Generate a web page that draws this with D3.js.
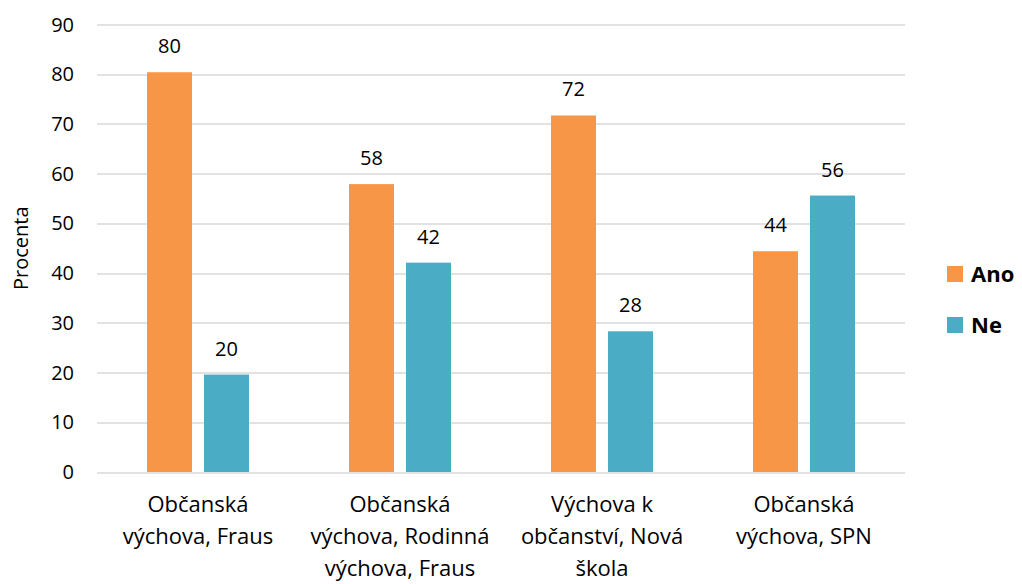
<!DOCTYPE html>
<html>
<head>
<meta charset="utf-8">
<script src="https://cdn.jsdelivr.net/npm/d3@7"></script>
<style>
  body { margin: 0; background: #fff; }
  text { font-family: "Open Sans", sans-serif; fill: #000; }
</style>
</head>
<body>
<div id="chart"></div>
<script>
var categories = [
    ["Občanská", "výchova, Fraus"],
    ["Občanská", "výchova, Rodinná", "výchova, Fraus"],
    ["Výchova k", "občanství, Nová", "škola"],
    ["Občanská", "výchova, SPN"]
]
var seriesNames = ["Ano", "Ne"]
var anoValues = [80.4, 57.9, 71.7, 44.4]
var neValues = [19.6, 42.1, 28.3, 55.6]
var yTicks = [0, 10, 20, 30, 40, 50, 60, 70, 80, 90]
var colors = ["#F79646", "#4BACC6"]

var W = 1022, H = 584
var margin = { top: 24.5, right: 117, bottom: 112, left: 97 },
    width = W - margin.left - margin.right,
    height = H - margin.top - margin.bottom

var svg = d3.select("#chart")
    .append("svg")
    .attr("width", W)
    .attr("height", H)

var g = svg.append("g")
    .attr("transform", "translate(" + margin.left + "," + margin.top + ")")

var y = d3.scaleLinear().domain([0, 90]).range([height, 0])
var x0 = d3.scaleBand()
    .domain(d3.range(categories.length))
    .range([0, width])
var x1 = d3.scaleBand()
    .domain([0, 1])
    .range([x0.bandwidth() / 2 - 51, x0.bandwidth() / 2 + 51])
    .paddingInner(12 / 57)

// gridlines
g.append("g")
    .selectAll("line")
    .data(yTicks)
    .enter()
    .append("line")
    .attr("x1", 0)
    .attr("x2", width)
    .attr("y1", d => Math.round(y(d)) + 0.5)
    .attr("y2", d => Math.round(y(d)) + 0.5)
    .attr("stroke", "#D9D9D9")
    .attr("stroke-width", 1.5)

// y tick labels
g.append("g")
    .selectAll("text")
    .data(yTicks)
    .enter()
    .append("text")
    .attr("x", -23)
    .attr("y", d => y(d))
    .attr("dy", "0.35em")
    .attr("text-anchor", "end")
    .style("font-size", "20px")
    .text(d => d)

// y axis title
svg.append("text")
    .attr("transform", "translate(28," + (margin.top + height / 2) + ") rotate(-90)")
    .attr("text-anchor", "middle")
    .style("font-size", "20px")
    .text("Procenta")

var rows = categories.map(function (c, i) {
    return [anoValues[i], neValues[i]]
})

var groups = g.selectAll(".cat")
    .data(rows)
    .enter()
    .append("g")
    .attr("class", "cat")
    .attr("transform", (d, i) => "translate(" + x0(i) + ",0)")

groups.selectAll("rect")
    .data(d => d)
    .enter()
    .append("rect")
    .attr("x", (d, j) => x1(j))
    .attr("width", x1.bandwidth())
    .attr("y", d => y(d))
    .attr("height", d => height - y(d))
    .attr("fill", (d, j) => colors[j])

groups.selectAll(".lbl")
    .data(d => d)
    .enter()
    .append("text")
    .attr("class", "lbl")
    .attr("x", (d, j) => x1(j) + x1.bandwidth() / 2)
    .attr("y", d => y(d) - 19)
    .attr("text-anchor", "middle")
    .style("font-size", "20px")
    .text(d => d3.format(".0f")(d))

// category labels
g.selectAll(".xlab")
    .data(categories)
    .enter()
    .append("text")
    .attr("class", "xlab")
    .attr("text-anchor", "middle")
    .attr("x", (d, i) => x0(i) + x0.bandwidth() / 2)
    .attr("y", height + 40)
    .style("font-size", "22px")
    .selectAll("tspan")
    .data(d => d)
    .enter()
    .append("tspan")
    .attr("x", function () { return d3.select(this.parentNode).attr("x") })
    .attr("dy", (d, i) => i === 0 ? 0 : 32)
    .text(d => d)

// legend
var legend = svg.append("g")
    .selectAll("g")
    .data(seriesNames)
    .enter()
    .append("g")
    .attr("transform", (d, i) => "translate(947," + (266 + i * 51) + ")")

legend.append("rect")
    .attr("width", 16)
    .attr("height", 16)
    .attr("fill", (d, i) => colors[i])

legend.append("text")
    .attr("x", 24)
    .attr("y", 8)
    .attr("dy", "0.36em")
    .style("font-size", "22px")
    .style("font-weight", "bold")
    .text(d => d)
</script>
</body>
</html>
